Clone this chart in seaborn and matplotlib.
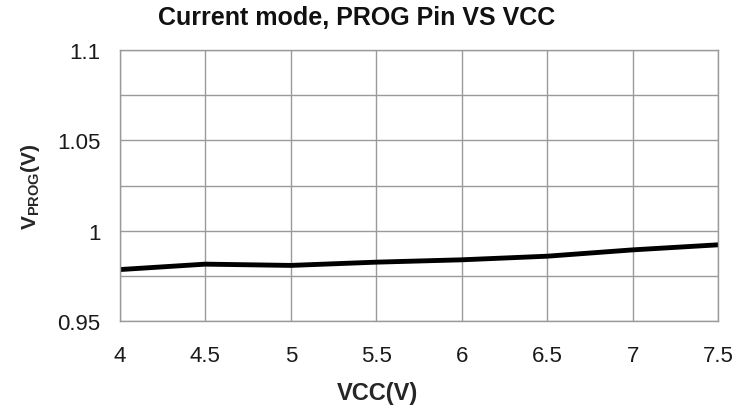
import numpy as np
import pandas as pd
import matplotlib
matplotlib.use("Agg")
import matplotlib.pyplot as plt
import seaborn as sns

# Values.
vcc = [4.0, 4.5, 5.0, 5.5, 6.0, 6.5, 7.0, 7.5]
vprog = [0.9785, 0.9815, 0.9808, 0.9826, 0.9839, 0.9859, 0.9894, 0.9922]

x_ticks = [4, 4.5, 5, 5.5, 6, 6.5, 7, 7.5]
x_tick_labels = ["4", "4.5", "5", "5.5", "6", "6.5", "7", "7.5"]
y_ticks = [0.95, 1.0, 1.05, 1.1]
y_tick_labels = ["0.95", "1", "1.05", "1.1"]
y_grid = [0.95, 0.975, 1.0, 1.025, 1.05, 1.075, 1.1]

sns.set_theme(style="white")
plt.rcParams["font.family"] = ["Liberation Sans", "DejaVu Sans"]
plt.rcParams["mathtext.fontset"] = "custom"
plt.rcParams["mathtext.rm"] = "Liberation Sans"
plt.rcParams["mathtext.bf"] = "Liberation Sans:bold"

df = pd.DataFrame({"vcc": vcc, "vprog": vprog})

fig = plt.figure(figsize=(7.49, 4.14), dpi=100)
ax = fig.add_axes([0.160, 0.222, 0.799, 0.655])

# Excel-style grid: vertical at every x tick, horizontal every 0.025.
grid_color = "#9a9a9a"
for g in x_ticks:
    ax.axvline(g, color=grid_color, lw=1.0, zorder=0)
for g in y_grid:
    ax.axhline(g, color=grid_color, lw=1.0, zorder=0)

sns.lineplot(data=df, x="vcc", y="vprog", color="black", lw=3.5, ax=ax)

ax.set_xlim(4, 7.5)
ax.set_ylim(0.95, 1.1)
ax.set_xticks(x_ticks)
ax.set_xticklabels(x_tick_labels)
ax.set_yticks(y_ticks)
ax.set_yticklabels(y_tick_labels)
ax.tick_params(axis="both", length=0, labelsize=16, colors="#1a1a1a")
ax.tick_params(axis="x", pad=17)
ax.tick_params(axis="y", pad=14)

for sp in ax.spines.values():
    sp.set_color(grid_color)
    sp.set_linewidth(1.0)

ax.set_xlabel("VCC(V)", fontsize=17, fontweight="bold", va="center")
ax.xaxis.set_label_coords(0.43, -0.263)
ax.set_ylabel(r"$\mathbf{V_{PROG}(V)}$", fontsize=15, va="center")
ax.yaxis.set_label_coords(-0.150, 0.5)

fig.text(357 / 749, 1 - 18 / 414, "Current mode, PROG Pin VS VCC",
         fontsize=18, fontweight="bold", ha="center", va="center", color="#111111")

fig.savefig("out.png", dpi=100)
